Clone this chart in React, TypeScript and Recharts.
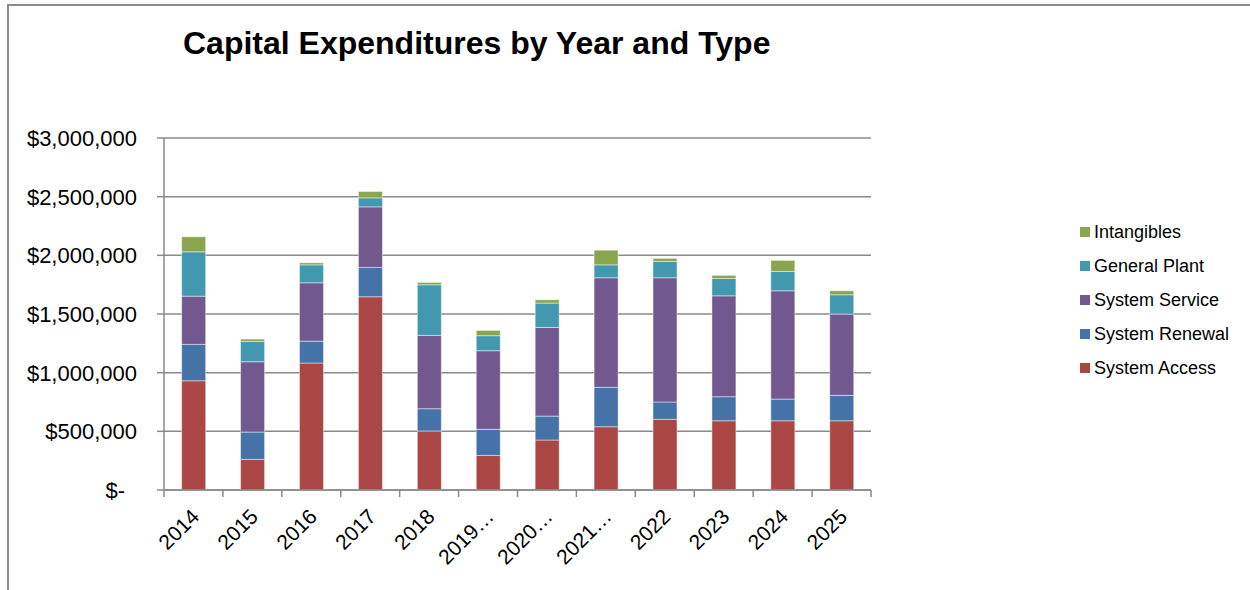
import React from "react";
import { BarChart, Bar, XAxis, YAxis, CartesianGrid } from "recharts";

const categories = ["2014", "2015", "2016", "2017", "2018", "2019…", "2020…", "2021…", "2022", "2023", "2024", "2025"];
const systemAccess = [931000, 261000, 1082000, 1647000, 503000, 295000, 426000, 539000, 602000, 590000, 590000, 590000];
const systemRenewal = [310000, 233000, 187000, 250000, 190000, 222000, 204000, 336000, 148000, 205000, 185000, 217000];
const systemService = [411000, 599000, 497000, 516000, 625000, 670000, 756000, 934000, 1059000, 860000, 923000, 692000];
const generalPlant = [378000, 173000, 153000, 77000, 431000, 128000, 207000, 110000, 139000, 148000, 165000, 165000];
const intangibles = [128000, 20000, 17000, 54000, 20000, 45000, 28000, 125000, 26000, 26000, 94000, 34000];
const yTicks = [0, 500000, 1000000, 1500000, 2000000, 2500000, 3000000];

const series = [
  { key: "access", name: "System Access", color: "#AA4643", values: systemAccess },
  { key: "renewal", name: "System Renewal", color: "#4572A7", values: systemRenewal },
  { key: "service", name: "System Service", color: "#71588F", values: systemService },
  { key: "plant", name: "General Plant", color: "#4198AF", values: generalPlant },
  { key: "intang", name: "Intangibles", color: "#89A54E", values: intangibles },
];

const data = categories.map((c, i) => {
  const row: any = { name: c };
  series.forEach((s) => (row[s.key] = s.values[i]));
  return row;
});

const FONT = "'Liberation Sans', Arial, sans-serif";
const PLOT_LEFT = 164;
const PLOT_RIGHT = 871;
const STEP = (PLOT_RIGHT - PLOT_LEFT) / categories.length;
const AXIS_COLOR = "#8a8a8a";

const fmt = (v: number) => (v === 0 ? "$-" : "$" + v.toLocaleString("en-US"));

const YTick = (props: any) => {
  const { x, y, payload } = props;
  const v = payload.value;
  return (
    <text x={v === 0 ? x - 12 : x} y={y} dy={8} textAnchor="end" fontSize={22} fontFamily={FONT} fill="#000">
      {fmt(v)}
    </text>
  );
};

const XTick = (props: any) => {
  const { x, y, payload, index } = props;
  const left = x - STEP / 2;
  const tx = x + 2;
  const ty = y + 15;
  return (
    <g>
      <line x1={left} x2={left} y1={y - 8} y2={y - 1} stroke={AXIS_COLOR} strokeWidth={1.5} />
      {index === categories.length - 1 && (
        <line x1={x + STEP / 2} x2={x + STEP / 2} y1={y - 8} y2={y - 1} stroke={AXIS_COLOR} strokeWidth={1.5} />
      )}
      <text
        x={tx}
        y={ty}
        textAnchor="end"
        fontSize={21}
        fontFamily={FONT}
        fill="#000"
        transform={`rotate(-45, ${tx}, ${ty})`}
        dy={7}
      >
        {payload.value}
      </text>
    </g>
  );
};

export default function App() {
  return (
    <div style={{ position: "fixed", left: 0, top: 0, width: 1250, height: 590, background: "#fff", overflow: "hidden" }}>
      <div
        style={{
          position: "absolute",
          left: 7,
          top: 4,
          width: 1250,
          height: 600,
          borderTop: "2px solid #8c8c8c",
          borderLeft: "2px solid #8c8c8c",
        }}
      />
      <div
        style={{
          position: "absolute",
          left: 183,
          top: 24,
          lineHeight: "38px",
          fontFamily: FONT,
          fontWeight: "bold",
          fontSize: 32,
          color: "#000",
          whiteSpace: "nowrap",
        }}
      >
        Capital Expenditures by Year and Type
      </div>
      <div style={{ position: "absolute", left: 1080, top: 215, fontFamily: FONT, fontSize: 18, color: "#000" }}>
        {[...series].reverse().map((s) => (
          <div key={s.key} style={{ display: "flex", alignItems: "center", height: 34 }}>
            <div style={{ width: 10, height: 10, background: s.color, marginRight: 4 }} />
            <span>{s.name}</span>
          </div>
        ))}
      </div>
      <div style={{ position: "absolute", left: 0, top: 0 }}>
        <BarChart
          width={1250}
          height={590}
          data={data}
          margin={{ top: 138, right: 1250 - PLOT_RIGHT, bottom: 0, left: 0 }}
          barCategoryGap="30%"
        >
          <CartesianGrid vertical={false} stroke={AXIS_COLOR} strokeWidth={1.5} />
          <XAxis
            dataKey="name"
            height={100}
            interval={0}
            tick={<XTick />}
            tickLine={false}
            axisLine={{ stroke: AXIS_COLOR, strokeWidth: 1.5 }}
          />
          <YAxis
            width={PLOT_LEFT}
            domain={[0, 3000000]}
            ticks={yTicks}
            interval={0}
            tick={<YTick />}
            tickSize={7}
            tickMargin={20}
            tickLine={{ stroke: AXIS_COLOR, strokeWidth: 1.5 }}
            axisLine={{ stroke: AXIS_COLOR, strokeWidth: 1.5 }}
          />
          {series.map((s) => (
            <Bar
              key={s.key}
              dataKey={s.key}
              name={s.name}
              stackId="a"
              fill={s.color}
              stroke="rgba(255,255,255,0.45)"
              strokeWidth={1}
              isAnimationActive={false}
            />
          ))}
        </BarChart>
      </div>
    </div>
  );
}
